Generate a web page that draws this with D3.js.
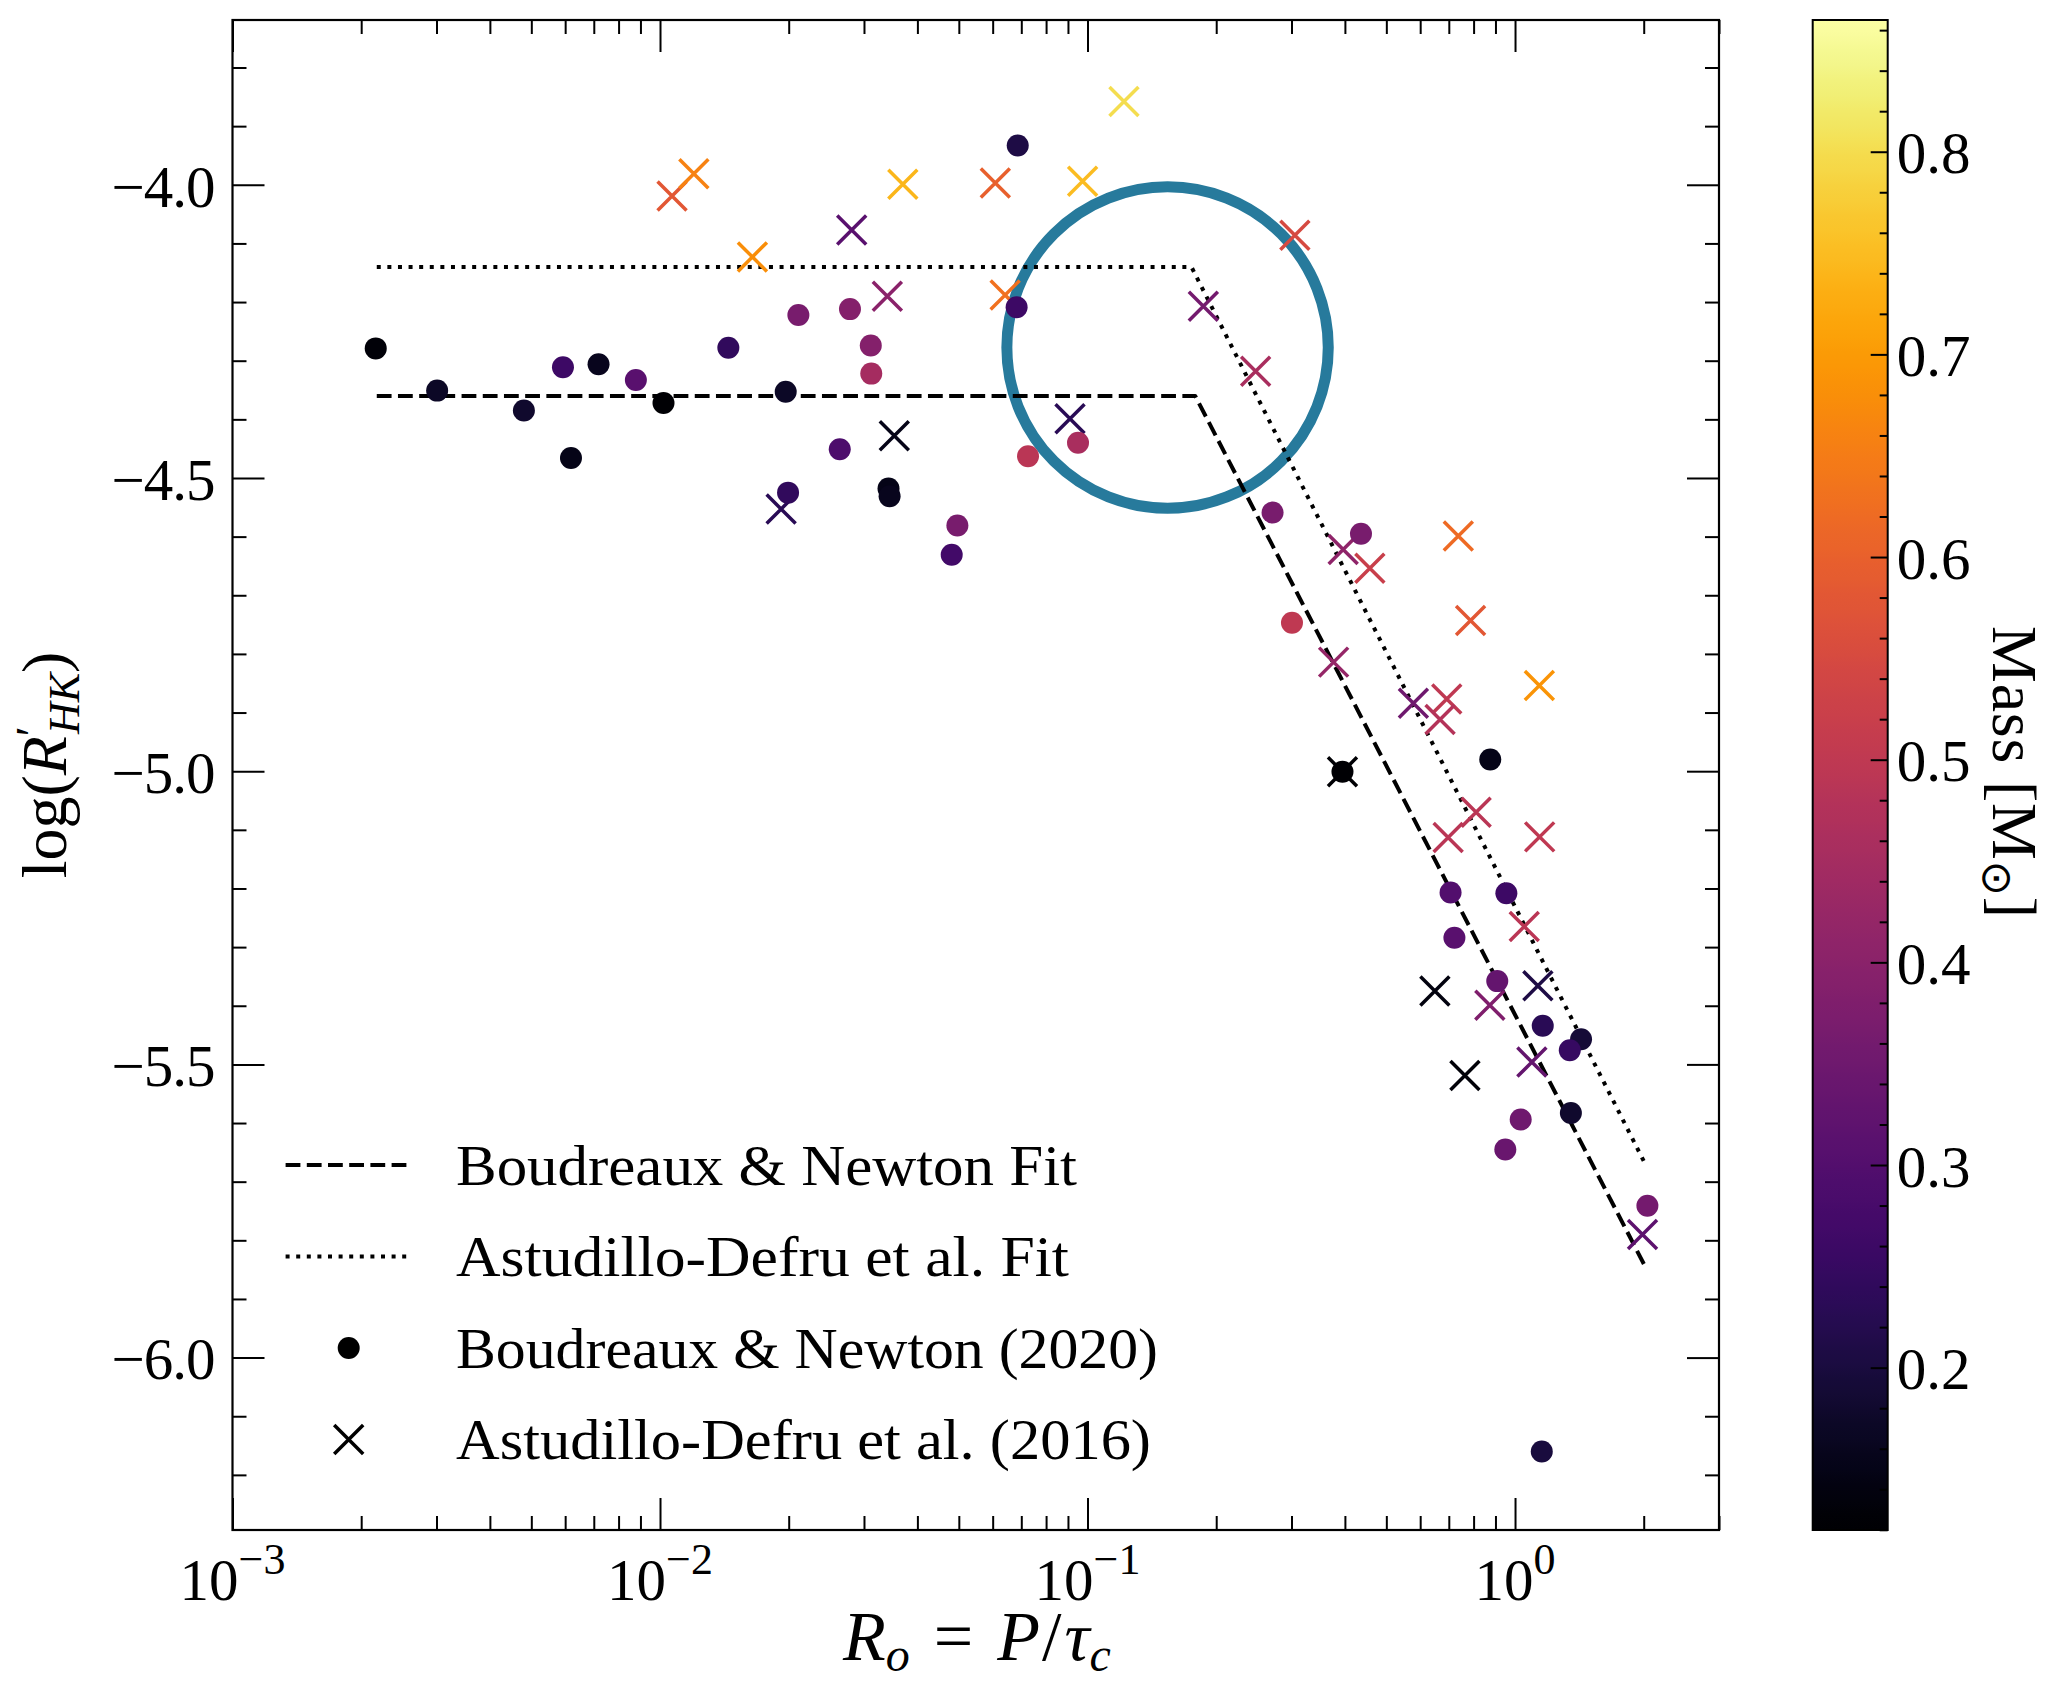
<!DOCTYPE html>
<html><head><meta charset="utf-8">
<script src="https://cdn.jsdelivr.net/npm/d3@7"></script>
<style>body{margin:0;background:#fff;} text{font-family:"Liberation Serif","Times New Roman",serif;fill:#000;}</style>
</head><body>
<svg id="c" width="2059" height="1694" xmlns="http://www.w3.org/2000/svg"></svg>
<script>
// ---- data ----
const bnRo   = [0.002163,0.003011,0.004804,0.005929,0.007182,0.008781,0.006191,0.01019,0.01445,0.01968,0.02107,0.02782,0.03112,0.0312,0.01993,0.02633,0.03424,0.03444,0.04961,0.04812,0.06867,0.06826,0.07258,0.09501,0.2709,0.4362,0.3008,0.875,0.3948,0.7066,0.9544,0.7215,0.9087,1.161,1.427,1.343,1.031,0.949,1.351,2.040,1.155];
const bnLogR = [-4.279,-4.351,-4.385,-4.311,-4.306,-4.333,-4.466,-4.372,-4.278,-4.353,-4.222,-4.212,-4.274,-4.322,-4.525,-4.451,-4.518,-4.531,-4.581,-4.631,-3.933,-4.209,-4.463,-4.440,-4.559,-4.595,-4.747,-4.980,-5.001,-5.207,-5.208,-5.284,-5.358,-5.434,-5.457,-5.476,-5.594,-5.645,-5.583,-5.741,-6.160];
const bnMass = [0.13,0.17,0.18,0.26,0.16,0.31,0.15,0.12,0.24,0.17,0.37,0.39,0.39,0.45,0.24,0.29,0.15,0.16,0.37,0.27,0.21,0.26,0.49,0.46,0.37,0.37,0.50,0.15,0.12,0.30,0.26,0.31,0.33,0.23,0.19,0.25,0.35,0.34,0.18,0.36,0.20];

const adRo   = [0.01067,0.0120,0.01645,0.02808,0.03402,0.03698,0.03532,0.01920,0.06086,0.06416,0.09739,0.1217,0.0910,0.1866,0.2473,0.3055,0.3963,0.4575,0.7368,0.787,0.3764,1.140,0.5785,0.6923,0.6678,0.3948,0.811,0.6975,1.142,1.051,0.6494,0.873,1.131,0.7635,1.095,1.987];
const adLogR = [-4.019,-3.981,-4.123,-4.077,-4.190,-3.999,-4.428,-4.553,-3.997,-4.188,-3.994,-3.858,-4.399,-4.207,-4.318,-4.086,-4.622,-4.654,-4.599,-4.743,-4.814,-4.854,-4.884,-4.877,-4.912,-5.001,-5.070,-5.113,-5.112,-5.265,-5.375,-5.399,-5.366,-5.519,-5.496,-5.790];
const adMass = [0.58,0.66,0.68,0.31,0.40,0.74,0.15,0.23,0.60,0.63,0.75,0.80,0.23,0.36,0.46,0.55,0.41,0.52,0.62,0.58,0.42,0.69,0.35,0.50,0.48,0.12,0.49,0.49,0.50,0.49,0.14,0.38,0.21,0.13,0.33,0.32];

const bnFitRo   = [0.002175, 0.1786, 2.02];
const bnFitLogR = [-4.36, -4.36, -5.846];
const adFitRo   = [0.002175, 0.175, 2.02];
const adFitLogR = [-4.14, -4.14, -5.671];

const highlightRo = [0.1539];
const highlightLogR = [-4.2776];

const xMajorTicks = [0.001, 0.01, 0.1, 1];
const xTickExponents = ["\u22123", "\u22122", "\u22121", "0"];
const yMajorTicks = [-6.0, -5.5, -5.0, -4.5, -4.0];
const yTickLabels = ["\u22126.0", "\u22125.5", "\u22125.0", "\u22124.5", "\u22124.0"];
const cbTicks = [0.2, 0.3, 0.4, 0.5, 0.6, 0.7, 0.8];
const cbTickLabels = ["0.2", "0.3", "0.4", "0.5", "0.6", "0.7", "0.8"];
const legendLabels = ["Boudreaux & Newton Fit", "Astudillo-Defru et al. Fit", "Boudreaux & Newton (2020)", "Astudillo-Defru et al. (2016)"];

// ---- layout ----
const L = 232.5, R = 1719, T = 20, B = 1530;
const CBL = 1812.7, CBR = 1887.7;
const svg = d3.select('#c');

const x = d3.scaleLog().domain([1e-3, 3]).range([L, R]);
const y = d3.scaleLinear().domain([-6.294, -3.719]).range([B, T]);
const mMin = 0.1199, mMax = 0.865;
const cScale = d3.scaleLinear().domain([mMin, mMax]).range([B, T]);
const color = m => d3.interpolateInferno((m - mMin) / (mMax - mMin));

// highlight ring (bottom layer)
svg.append('circle')
  .attr('cx', x(highlightRo[0])).attr('cy', y(highlightLogR[0]))
  .attr('r', 160.7).attr('fill', 'none')
  .attr('stroke', '#277a9c').attr('stroke-width', 11);

// fit lines
const line = d3.line().x(d => x(d[0])).y(d => y(d[1]));
svg.append('path').datum(bnFitRo.map((r, i) => [r, bnFitLogR[i]]))
  .attr('d', line).attr('fill', 'none').attr('stroke', '#000')
  .attr('stroke-width', 4).attr('stroke-dasharray', '14.8,6.4').attr('stroke-linejoin', 'round');
svg.append('path').datum(adFitRo.map((r, i) => [r, adFitLogR[i]]))
  .attr('d', line).attr('fill', 'none').attr('stroke', '#000')
  .attr('stroke-width', 4).attr('stroke-dasharray', '4,6.6').attr('stroke-linejoin', 'round');

// crosses
const h = 14.5;
const crossPath = `M${-h},${-h}L${h},${h}M${-h},${h}L${h},${-h}`;
svg.append('g').selectAll('path').data(adRo.map((r, i) => ({r, v: adLogR[i], m: adMass[i]})))
  .join('path')
  .attr('transform', d => `translate(${x(d.r)},${y(d.v)})`)
  .attr('d', crossPath).attr('stroke', d => color(d.m)).attr('stroke-width', 3.5).attr('fill', 'none');

// circles
svg.append('g').selectAll('circle').data(bnRo.map((r, i) => ({r, v: bnLogR[i], m: bnMass[i]})))
  .join('circle')
  .attr('cx', d => x(d.r)).attr('cy', d => y(d.v)).attr('r', 11)
  .attr('fill', d => color(d.m));

// ---- axes ----
const xMinor = [];
for (let n = -3; n <= 0; n++) for (let k = 2; k <= 9; k++) { const v = k * Math.pow(10, n); if (v <= 3) xMinor.push(v); }
const yMinor = d3.range(-62, -37).map(v => v / 10).filter(v => Math.abs(v * 2 - Math.round(v * 2)) > 1e-6);

function styleAxis(g) {
  g.select('.domain').remove();
  g.selectAll('.tick line').attr('stroke', '#000').attr('stroke-width', 2);
}
svg.append('g').attr('transform', `translate(0,${B})`).call(d3.axisBottom(x).tickValues(xMajorTicks).tickSize(-32).tickFormat('')).call(styleAxis);
svg.append('g').attr('transform', `translate(0,${B})`).call(d3.axisBottom(x).tickValues(xMinor).tickSize(-14).tickFormat('')).call(styleAxis);
svg.append('g').attr('transform', `translate(0,${T})`).call(d3.axisTop(x).tickValues(xMajorTicks).tickSize(-32).tickFormat('')).call(styleAxis);
svg.append('g').attr('transform', `translate(0,${T})`).call(d3.axisTop(x).tickValues(xMinor).tickSize(-14).tickFormat('')).call(styleAxis);

const yl = svg.append('g').attr('transform', `translate(${L},0)`)
  .call(d3.axisLeft(y).tickValues(yMajorTicks).tickSize(-32).tickPadding(17).tickFormat((d, i) => yTickLabels[i]))
  .call(styleAxis);
yl.selectAll('.tick text').attr('font-size', 59).attr('dy', '0.36em')
  .attr('textLength', 104).attr('lengthAdjust', 'spacing')
  .attr('font-family', '"Liberation Serif",serif').attr('fill', '#000');
svg.append('g').attr('transform', `translate(${L},0)`).call(d3.axisLeft(y).tickValues(yMinor).tickSize(-14).tickFormat('')).call(styleAxis);
svg.append('g').attr('transform', `translate(${R},0)`).call(d3.axisRight(y).tickValues(yMajorTicks).tickSize(-32).tickFormat('')).call(styleAxis);
svg.append('g').attr('transform', `translate(${R},0)`).call(d3.axisRight(y).tickValues(yMinor).tickSize(-14).tickFormat('')).call(styleAxis);

// x tick labels 10^n
const xt = svg.append('g');
xMajorTicks.forEach((v, i) => {
  const t = xt.append('text').attr('x', x(v)).attr('y', 1600).attr('text-anchor', 'middle').attr('font-size', 59);
  t.append('tspan').text('10');
  t.append('tspan').attr('font-size', 44).attr('dy', -26).text(xTickExponents[i]);
});

// spines
svg.append('rect').attr('x', L).attr('y', T).attr('width', R - L).attr('height', B - T)
  .attr('fill', 'none').attr('stroke', '#000').attr('stroke-width', 2.2);

// axis labels
const xlab = svg.append('text').attr('x', 977).attr('y', 1660).attr('text-anchor', 'middle').attr('font-size', 70);
xlab.append('tspan').attr('font-style', 'italic').text('R');
xlab.append('tspan').attr('font-style', 'italic').attr('font-size', 48).attr('dy', 11).text('o');
xlab.append('tspan').attr('dy', -11).attr('dx', 24).text('=');
xlab.append('tspan').attr('dx', 24).attr('font-style', 'italic').text('P');
xlab.append('tspan').attr('dx', 2).text('/');
xlab.append('tspan').attr('dx', 3).attr('font-style', 'italic').text('\u03C4');
xlab.append('tspan').attr('font-style', 'italic').attr('font-size', 48).attr('dy', 11).text('c');

const ylab = svg.append('text').attr('transform', 'translate(66,765) rotate(-90)').attr('text-anchor', 'middle').attr('font-size', 64);
ylab.append('tspan').text('log(');
ylab.append('tspan').attr('font-style', 'italic').text('R');
ylab.append('tspan').attr('font-size', 46).attr('dy', -18).text('\u2032');
ylab.append('tspan').attr('font-style', 'italic').attr('font-size', 44).attr('dx', -8).attr('dy', 31).text('HK');
ylab.append('tspan').attr('dy', -13).text(')');

// ---- colorbar ----
const defs = svg.append('defs');
const grad = defs.append('linearGradient').attr('id', 'cbg').attr('x1', 0).attr('y1', 1).attr('x2', 0).attr('y2', 0);
d3.range(0, 101).forEach(i => grad.append('stop').attr('offset', (i / 100)).attr('stop-color', d3.interpolateInferno(i / 100)));
svg.append('rect').attr('x', CBL).attr('y', T).attr('width', CBR - CBL).attr('height', B - T).attr('fill', 'url(#cbg)');
const cbMinor = d3.range(12, 87, 2).map(v => v / 100).filter(v => v >= mMin && v <= mMax && Math.abs(v * 10 - Math.round(v * 10)) > 1e-6);
const cba = svg.append('g').attr('transform', `translate(${CBR},0)`)
  .call(d3.axisRight(cScale).tickValues(cbTicks).tickSize(-17).tickPadding(9).tickFormat((d, i) => cbTickLabels[i]))
  .call(styleAxis);
cba.selectAll('.tick text').attr('font-size', 59).attr('dy', '0.36em').attr('font-family', '"Liberation Serif",serif').attr('fill', '#000');
svg.append('g').attr('transform', `translate(${CBR},0)`).call(d3.axisRight(cScale).tickValues(cbMinor).tickSize(-8).tickFormat('')).call(styleAxis);
svg.append('rect').attr('x', CBL).attr('y', T).attr('width', CBR - CBL).attr('height', B - T)
  .attr('fill', 'none').attr('stroke', '#000').attr('stroke-width', 2);

const cbl = svg.append('text').attr('transform', 'translate(1993,772) rotate(90)').attr('text-anchor', 'middle').attr('font-size', 64)
  .attr('textLength', 292).attr('lengthAdjust', 'spacing');
cbl.append('tspan').text('Mass [M');
cbl.append('tspan').attr('font-size', 42).attr('dy', 10).attr('font-family', '"DejaVu Sans",sans-serif').text('\u2299');
cbl.append('tspan').attr('dy', -10).text(']');

// ---- legend ----
const lg = svg.append('g');
const rows = [1165, 1256.5, 1348, 1439.5];
const lens = [621, 613, 702, 695];
lg.append('line').attr('x1', 285.6).attr('x2', 407.9).attr('y1', rows[0]).attr('y2', rows[0])
  .attr('stroke', '#000').attr('stroke-width', 4).attr('stroke-dasharray', '14.8,6.4');
lg.append('line').attr('x1', 285.6).attr('x2', 407.9).attr('y1', rows[1]).attr('y2', rows[1])
  .attr('stroke', '#000').attr('stroke-width', 4).attr('stroke-dasharray', '4,6.6');
lg.append('circle').attr('cx', 348.7).attr('cy', rows[2]).attr('r', 11).attr('fill', '#000');
lg.append('path').attr('transform', `translate(348.7,${rows[3]})`).attr('d', crossPath).attr('stroke', '#000').attr('stroke-width', 3.5);
legendLabels.forEach((s, i) => {
  lg.append('text').attr('x', 456).attr('y', rows[i] + 19.5).attr('font-size', 58)
    .attr('textLength', lens[i]).attr('lengthAdjust', 'spacingAndGlyphs').text(s);
});
</script>
</body></html>
